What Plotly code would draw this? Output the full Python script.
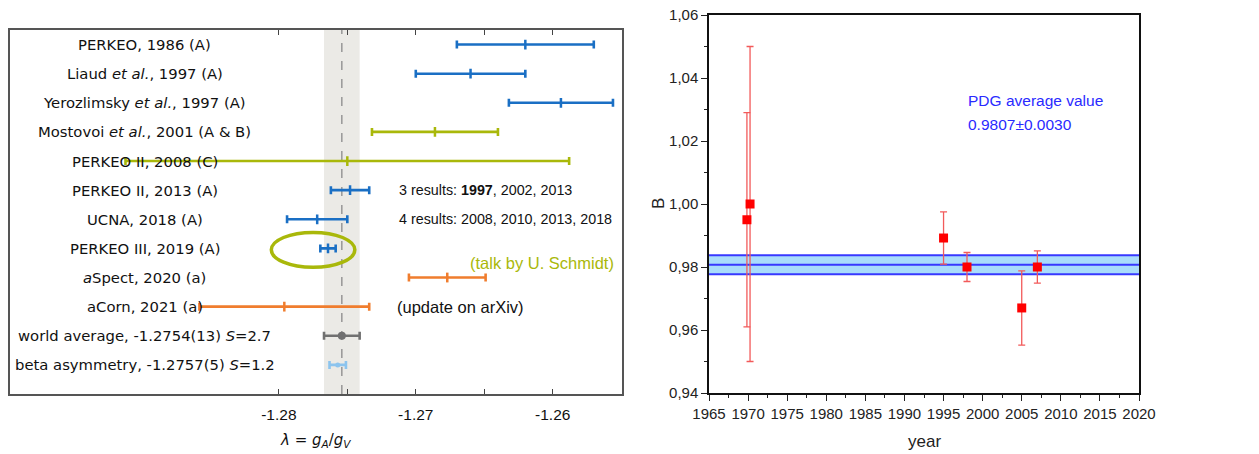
import plotly.graph_objects as go

# ---------------- Left panel data ----------------
labels = ["PERKEO, 1986 (A)", "Liaud <i>et al.</i>, 1997 (A)", "Yerozlimsky <i>et al.</i>, 1997 (A)",
          "Mostovoi <i>et al.</i>, 2001 (A &amp; B)", "PERKEO II, 2008 (C)", "PERKEO II, 2013 (A)",
          "UCNA, 2018 (A)", "PERKEO III, 2019 (A)", "<i>a</i>Spect, 2020 (a)", "aCorn, 2021 (a)",
          "world average, -1.2754(13) <i>S</i>=2.7", "beta asymmetry, -1.2757(5) <i>S</i>=1.2"]
lam = [-1.2620, -1.2660, -1.2594, -1.2686, -1.2750, -1.2748, -1.2772, -1.27641, -1.2677, -1.2796, -1.2754, -1.2757]
lam_err = [0.0050, 0.0040, 0.0038, 0.0046, 0.0162, 0.0014, 0.0022, 0.00056, 0.0028, 0.0062, 0.0013, 0.0006]
groups = ["A", "A", "A", "AB", "C", "A", "A", "A", "a", "a", "avg", "beta"]
world_avg = -1.2754
world_err = 0.0013
xticks_left = [-1.28, -1.275, -1.27, -1.265, -1.26]
xticklabels_left = ["-1.28", "", "-1.27", "", "-1.26"]

# ---------------- Right panel data ----------------
years = [1969.85, 1970.25, 1995.0, 1998.0, 2005.0, 2007.0]
B = [0.995, 1.000, 0.9892, 0.980, 0.967, 0.980]
B_err = [0.034, 0.050, 0.0083, 0.0046, 0.0118, 0.0051]
pdg_val = 0.9807
pdg_err = 0.0030
yticks_right = [0.94, 0.96, 0.98, 1.00, 1.02, 1.04, 1.06]
yticklabels_right = ["0,94", "0,96", "0,98", "1,00", "1,02", "1,04", "1,06"]
xticks_right = list(range(1965, 2021, 5))

colors = {"A": "#1a6fc4", "AB": "#a9b80a", "C": "#a9b80a", "a": "#f07d2e",
          "avg": "#707070", "beta": "#8cc4ee"}

# page body has an 8px margin: shrink the figure and map page pixels to paper coords
OFF = 8
W, H = 1259 - OFF, 454 - OFF


def px(x):
    return min(1.0, max(0.0, (x - OFF) / W))


def py(y):
    return min(1.0, max(0.0, 1 - (y - OFF) / H))


fig = go.Figure()

# left panel: error bars
for i, (v, e, g) in enumerate(zip(lam, lam_err, groups)):
    c = colors[g]
    if g == "avg":
        mk = dict(symbol="circle", size=8, color=c)
    elif g == "beta":
        mk = dict(symbol="circle", size=5, color=c)
    else:
        mk = dict(symbol="line-ns-open", size=7, line=dict(color=c, width=2.5), color=c)
    fig.add_trace(go.Scatter(
        x=[v], y=[i], mode="markers", marker=mk,
        error_x=dict(type="constant", value=e, color=c, thickness=2.6, width=4),
        xaxis="x", yaxis="y", showlegend=False, hoverinfo="skip"))

# labels
for i, lab in enumerate(labels):
    fig.add_annotation(x=-1.2898, y=i, xref="x", yref="y", text=lab, showarrow=False,
                       xanchor="center", yanchor="middle",
                       font=dict(family="DejaVu Sans", size=14.8, color="#111111"))

# band and dashed line
fig.add_shape(type="rect", xref="x", yref="y domain", x0=world_avg - world_err, x1=world_avg + world_err,
              y0=0, y1=1, fillcolor="#ebeae6", line=dict(width=0), layer="below")
fig.add_shape(type="line", xref="x", yref="y domain", x0=world_avg, x1=world_avg, y0=0, y1=1,
              line=dict(color="#8a8a8a", width=1.3, dash="dash"), layer="below")

# ellipse around PERKEO III
fig.add_shape(type="circle", xref="x", yref="y", x0=-1.28055, x1=-1.27445, y0=6.45, y1=7.65,
              line=dict(color="#a9b80a", width=3.5), fillcolor="rgba(0,0,0,0)")

# text annotations left
ann_font = dict(family="Liberation Sans, Arial", size=14.3, color="#111111")
fig.add_annotation(x=-1.2714, y=5, xref="x", yref="y", text="3 results: <b>1997</b>, 2002, 2013",
                   showarrow=False, xanchor="left", yanchor="middle", font=ann_font)
fig.add_annotation(x=-1.2714, y=6, xref="x", yref="y", text="4 results: 2008, 2010, 2013, 2018",
                   showarrow=False, xanchor="left", yanchor="middle", font=ann_font)
fig.add_annotation(x=-1.2715, y=9, xref="x", yref="y", text="(update on arXiv)",
                   showarrow=False, xanchor="left", yanchor="middle",
                   font=dict(family="Liberation Sans, Arial", size=16.5, color="#111111"))
fig.add_annotation(x=-1.25535, y=7.5, xref="x", yref="y", text="(talk by U. Schmidt)",
                   showarrow=False, xanchor="right", yanchor="middle",
                   font=dict(family="Liberation Sans, Arial", size=16.5, color="#a9b80a"))

# ---------------- Right panel traces ----------------
fig.add_trace(go.Scatter(
    x=[1965, 2020, 2020, 1965], y=[pdg_val - pdg_err, pdg_val - pdg_err, pdg_val + pdg_err, pdg_val + pdg_err],
    fill="toself", fillcolor="#a9dcfb", line=dict(width=0), mode="lines",
    xaxis="x2", yaxis="y2", showlegend=False, hoverinfo="skip"))
for yy in [pdg_val - pdg_err, pdg_val, pdg_val + pdg_err]:
    fig.add_trace(go.Scatter(x=[1965, 2020], y=[yy, yy], mode="lines",
                             line=dict(color="#3838ff", width=2), xaxis="x2", yaxis="y2",
                             showlegend=False, hoverinfo="skip"))
fig.add_trace(go.Scatter(
    x=years, y=B, mode="markers",
    marker=dict(symbol="square", size=9, color="#ff0000"),
    error_y=dict(type="data", array=B_err, color="#f25a5a", thickness=1.3, width=3.5),
    xaxis="x2", yaxis="y2", showlegend=False, hoverinfo="skip"))

pdg_font = dict(family="Liberation Sans, Arial", size=15.5, color="#2a2aff")
fig.add_annotation(x=1997.9, y=1.0330, xref="x2", yref="y2", text="PDG average value",
                   showarrow=False, xanchor="left", yanchor="middle", font=pdg_font)
fig.add_annotation(x=1997.9, y=1.0251, xref="x2", yref="y2", text="0.9807±0.0030",
                   showarrow=False, xanchor="left", yanchor="middle", font=pdg_font)

# axis titles as annotations
fig.add_annotation(x=0.5, y=py(440), xref="x domain", yref="paper", yanchor="middle",
                   text="<i>λ</i> = <i>g<sub>A</sub></i>/<i>g<sub>V</sub></i>", showarrow=False,
                   font=dict(family="DejaVu Sans", size=15, color="#111111"))
fig.add_annotation(x=0.5, y=py(441), xref="x2 domain", yref="paper", yanchor="middle",
                   text="year", showarrow=False,
                   font=dict(family="Liberation Sans, Arial", size=17, color="#222222"))
fig.add_annotation(x=px(658), y=0.5, xref="paper", yref="y2 domain", xanchor="center",
                   text="B", showarrow=False, textangle=-90,
                   font=dict(family="Liberation Sans, Arial", size=17, color="#222222"))

tick_font = dict(family="Liberation Sans, Arial", size=15.5, color="#111111")
r_font = dict(family="Liberation Sans Narrow, Liberation Sans, Arial", size=15, color="#222222")

fig.update_layout(
    width=W, height=H, margin=dict(l=0, r=0, t=0, b=0, autoexpand=False),
    paper_bgcolor="white", plot_bgcolor="rgba(0,0,0,0)",
    xaxis=dict(domain=[px(9.5), px(622)], range=[-1.29967, -1.25494], anchor="y", showgrid=False,
               zeroline=False, automargin=False,
               tickvals=xticks_left, ticktext=xticklabels_left, ticks="inside", ticklen=5,
               tickcolor="#444", tickfont=tick_font, showline=True, linecolor="#555", linewidth=1.5,
               mirror="ticks", ticklabelstandoff=6),
    yaxis=dict(domain=[py(394), py(30)], range=[12, -0.5], anchor="x", showgrid=False,
               zeroline=False, automargin=False,
               showticklabels=False, ticks="", showline=True, linecolor="#555", linewidth=1.5,
               mirror=True),
    xaxis2=dict(domain=[px(709), px(1139)], range=[1965, 2020], anchor="y2", showgrid=False,
                zeroline=False, automargin=False,
                tickvals=xticks_right, ticks="outside", ticklen=6, tickcolor="#222",
                minor=dict(dtick=2.5, ticks="outside", ticklen=3, tickcolor="#222"),
                tickfont=r_font, showline=True, linecolor="#111", linewidth=1.5, mirror=True,
                ticklabeloverflow="allow"),
    yaxis2=dict(domain=[py(393), py(15)], range=[0.94, 1.06], anchor="x2", showgrid=False,
                zeroline=False, automargin=False,
                tickvals=yticks_right, ticktext=yticklabels_right, ticks="outside", ticklen=6,
                tickcolor="#222", minor=dict(dtick=0.01, ticks="outside", ticklen=3, tickcolor="#222"),
                tickfont=r_font, showline=True, linecolor="#111", linewidth=1.5, mirror=True,
                ticklabeloverflow="allow"),
)

fig.write_html("out.html")
